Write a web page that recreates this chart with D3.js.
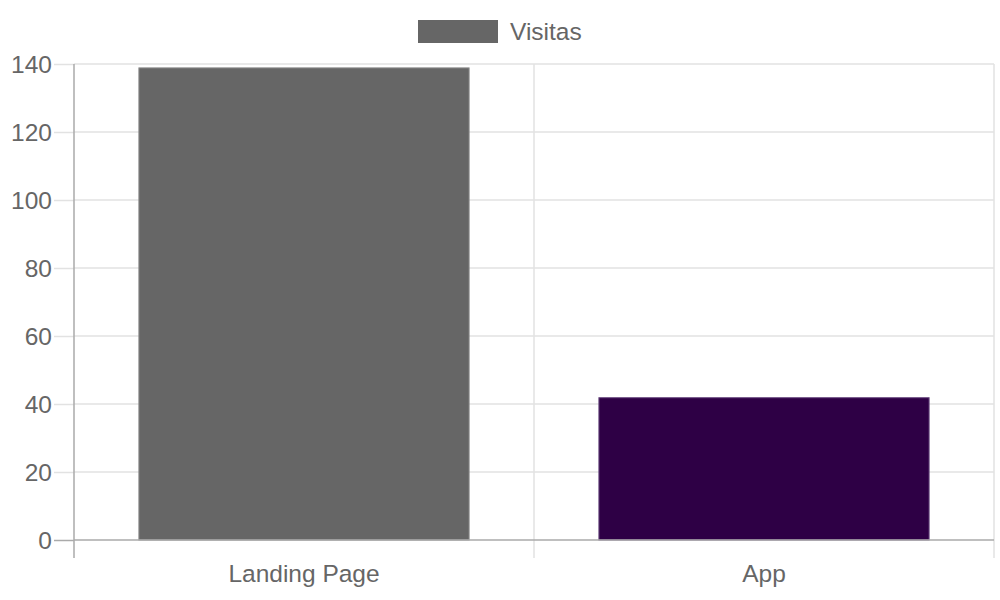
<!DOCTYPE html>
<html><head><meta charset="utf-8">
<script src="https://cdn.jsdelivr.net/npm/d3@7"></script>
<style>body{margin:0;background:#fff}svg{display:block}text{font-family:"Liberation Sans",Arial,sans-serif}</style>
</head><body>
<svg id="c" width="1000" height="600"></svg>
<script>
const categories = ["Landing Page", "App"];
const values = [139, 42];
const barColors = ["#666666", "#2e0045"];
const borderColors = ["#8a8a8a", "#6a4a80"];
const yTicks = [0, 20, 40, 60, 80, 100, 120, 140];
const seriesName = "Visitas";

const svg = d3.select("#c");
const L = 74, R = 994, T = 64, B = 540;
const FS = "24.5px";
const x = d3.scaleBand().domain(categories).range([L, R]).paddingInner(0).paddingOuter(0);
const y = d3.scaleLinear().domain([0, 140]).range([B, T]);
const grid = "#e2e2e2", axisC = "#aaaaaa", txt = "#666666";

// horizontal grid + ticks
const yAxis = d3.axisLeft(y).tickValues(yTicks).tickSize(20).tickPadding(2);
const gy = svg.append("g").attr("transform", `translate(${L},0)`).call(yAxis);
gy.select(".domain").remove();
gy.selectAll("line").attr("stroke", d => d === 0 ? axisC : grid).attr("stroke-width", 1.5);
gy.selectAll("text").attr("fill", txt).style("font-size", FS).attr("dy", "0.35em").attr("x", -22);
// extend grid lines across
svg.append("g").selectAll("line").data(yTicks.filter(d => d !== 0)).join("line")
  .attr("x1", L).attr("x2", R).attr("y1", d => y(d)).attr("y2", d => y(d))
  .attr("stroke", grid).attr("stroke-width", 1.5);

// vertical grid lines (category boundaries)
const bounds = [L, ...categories.map(c => x(c) + x.bandwidth())];
svg.append("g").selectAll("line").data(bounds).join("line")
  .attr("x1", d => d).attr("x2", d => d).attr("y1", T).attr("y2", B + 18)
  .attr("stroke", (d, i) => i === 0 ? axisC : grid).attr("stroke-width", 1.5);

// bars
const bw = x.bandwidth() * 0.72;
svg.append("g").selectAll("rect").data(categories).join("rect")
  .attr("x", c => x(c) + (x.bandwidth() - bw) / 2 + 0.5)
  .attr("width", bw - 1)
  .attr("y", (c, i) => y(values[i]) + 0.5)
  .attr("height", (c, i) => B - y(values[i]) - 0.5)
  .attr("fill", (c, i) => barColors[i])
  .attr("stroke", (c, i) => borderColors[i]).attr("stroke-width", 1);

// x axis line
svg.append("line").attr("x1", L).attr("x2", R).attr("y1", B).attr("y2", B).attr("stroke", axisC).attr("stroke-width", 1.5);

// x labels
const gx = svg.append("g").attr("transform", `translate(0,${B})`)
  .call(d3.axisBottom(x).tickSize(0).tickPadding(0));
gx.select(".domain").remove();
gx.selectAll("text").attr("fill", txt).style("font-size", FS).attr("y", 42).attr("dy", 0);

// legend
svg.append("rect").attr("x", 418).attr("y", 20).attr("width", 80).attr("height", 23).attr("fill", barColors[0]);
svg.append("text").attr("x", 510).attr("y", 40).attr("fill", txt).style("font-size", FS).text(seriesName);
</script>
</body></html>
